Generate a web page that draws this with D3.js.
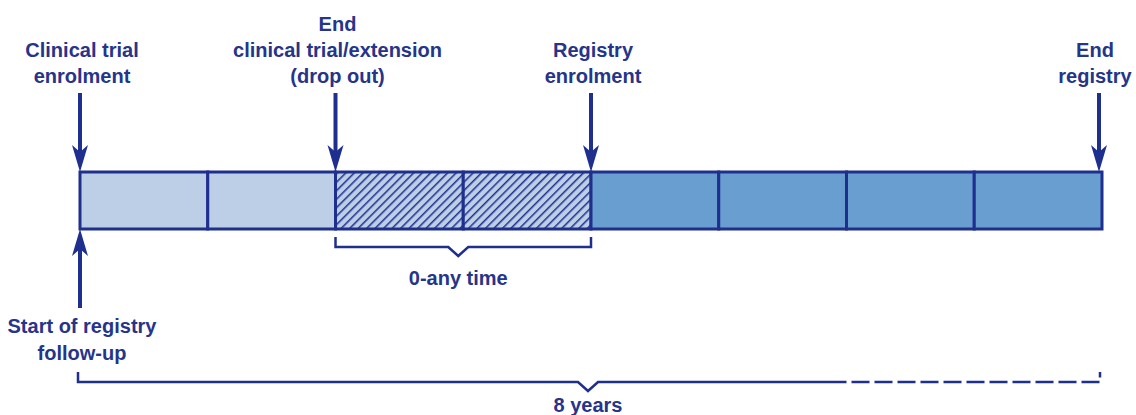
<!DOCTYPE html>
<html>
<head>
<meta charset="utf-8">
<script src="https://cdn.jsdelivr.net/npm/d3@7"></script>
<style>
  body { margin: 0; background: #fff; }
  text { font-family: "Liberation Sans", Arial, sans-serif; font-weight: bold; fill: #26348a; }
</style>
</head>
<body>
<div class="chart"></div>
<script>
// years on the timeline, one box per year
const years = [0, 1, 2, 3, 4, 5, 6, 7];
const phase = ["trial", "trial", "gap", "gap", "registry", "registry", "registry", "registry"];

// events with arrows pointing down onto the bar
const eventYears = [0, 2, 4, 8];
const eventLabels = [
    ["Clinical trial", "enrolment"],
    ["End", "clinical trial/extension", "(drop out)"],
    ["Registry", "enrolment"],
    ["End", "registry"]
];

// arrow from below
const startYear = 0;
const startLabel = ["Start of registry", "follow-up"];

// brackets
const gapRange = [2, 4];
const gapLabel = "0-any time";
const totalRange = [0, 8];
const solidUntil = 6;
const totalLabel = "8 years";

const width = 1136, height = 415;
const navy = "#1f2f8e";
const colors = {trial: "#bccfe6", gap: "#bccfe6", registry: "#699ed0"};

const svg = d3.select(".chart").append("svg")
    .attr("width", width)
    .attr("height", height);

const x = d3.scaleLinear()
    .domain([0, 8])
    .range([80, 1102]);

const barTop = 172, barBottom = 229;

// hatch pattern for the gap years
const defs = svg.append("defs");
const pat = defs.append("pattern")
    .attr("id", "hatch")
    .attr("patternUnits", "userSpaceOnUse")
    .attr("width", 6)
    .attr("height", 6)
    .attr("patternTransform", "rotate(45)");
pat.append("rect")
    .attr("width", 6).attr("height", 6)
    .attr("fill", colors.gap);
pat.append("line")
    .attr("x1", 0).attr("y1", 0)
    .attr("x2", 0).attr("y2", 6)
    .attr("stroke", navy)
    .attr("stroke-width", 3);

svg.append("g")
    .attr("class", "boxes")
    .selectAll("rect")
    .data(years)
    .enter().append("rect")
    .attr("x", d => x(d))
    .attr("y", barTop)
    .attr("width", d => x(d + 1) - x(d))
    .attr("height", barBottom - barTop)
    .attr("fill", (d, i) => phase[i] === "gap" ? "url(#hatch)" : colors[phase[i]])
    .attr("stroke", navy)
    .attr("stroke-width", 3);

// notched arrow head, tip at (0,0) pointing down
const headPath = "M0,0 L-8,-27 L0,-20 L8,-27 Z";

const downArrows = svg.append("g")
    .attr("class", "down-arrows")
    .selectAll("g")
    .data(eventYears)
    .enter().append("g")
    .attr("transform", d => "translate(" + (d === 8 ? x(d) - 3 : x(d)) + "," + barTop + ")");

downArrows.append("line")
    .attr("x1", 0).attr("x2", 0)
    .attr("y1", 93 - barTop).attr("y2", -18)
    .attr("stroke", navy)
    .attr("stroke-width", 4);

downArrows.append("path")
    .attr("d", headPath)
    .attr("fill", navy);

const lineH = 26;
downArrows.each(function(d, i) {
    const lines = eventLabels[i];
    const t = d3.select(this).append("text")
        .attr("text-anchor", "middle")
        .attr("font-size", 20);
    lines.forEach((s, j) => {
        t.append("tspan")
            .attr("x", d === 8 ? -4 : 2)
            .attr("y", 83 - barTop - (lines.length - 1 - j) * lineH)
            .text(s);
    });
});

// up arrow for start of follow-up
const up = svg.append("g")
    .attr("class", "up-arrow")
    .attr("transform", "translate(" + x(startYear) + "," + barBottom + ")");

up.append("line")
    .attr("x1", 0).attr("x2", 0)
    .attr("y1", 18).attr("y2", 308 - barBottom)
    .attr("stroke", navy)
    .attr("stroke-width", 4);

up.append("path")
    .attr("d", headPath)
    .attr("transform", "rotate(180)")
    .attr("fill", navy);

const st = up.append("text")
    .attr("text-anchor", "middle")
    .attr("font-size", 20);
startLabel.forEach((s, j) => {
    st.append("tspan")
        .attr("x", 2)
        .attr("y", 333 - barBottom + j * 27)
        .text(s);
});

// gap bracket
const gy = 247, gTick = 10, vW = 10, vD = 9;
const gMid = (x(gapRange[0]) + x(gapRange[1])) / 2 - 5;
svg.append("path")
    .attr("d", "M" + x(gapRange[0]) + "," + (gy - gTick) +
        " V" + gy + " H" + (gMid - vW) + " L" + gMid + "," + (gy + vD) +
        " L" + (gMid + vW) + "," + gy + " H" + x(gapRange[1]) + " V" + (gy - gTick))
    .attr("fill", "none")
    .attr("stroke", navy)
    .attr("stroke-width", 2.5);

svg.append("text")
    .attr("x", gMid)
    .attr("y", 285)
    .attr("text-anchor", "middle")
    .attr("font-size", 20)
    .text(gapLabel);

// total bracket
const ty = 382;
const tMid = (x(totalRange[0]) + x(totalRange[1])) / 2 - 3;
svg.append("path")
    .attr("d", "M" + (x(totalRange[0]) - 2) + "," + (ty - gTick) +
        " V" + ty + " H" + (tMid - vW) + " L" + tMid + "," + (ty + vD) +
        " L" + (tMid + vW) + "," + ty + " H" + x(solidUntil))
    .attr("fill", "none")
    .attr("stroke", navy)
    .attr("stroke-width", 2.5);

svg.append("path")
    .attr("d", "M" + (x(solidUntil) + 5) + "," + ty + " H" + (x(totalRange[1]) - 2) + " V" + (ty - gTick))
    .attr("fill", "none")
    .attr("stroke", navy)
    .attr("stroke-width", 2.5)
    .attr("stroke-dasharray", "18,5");

svg.append("text")
    .attr("x", tMid)
    .attr("y", 412)
    .attr("text-anchor", "middle")
    .attr("font-size", 20)
    .text(totalLabel);
</script>
</body>
</html>
